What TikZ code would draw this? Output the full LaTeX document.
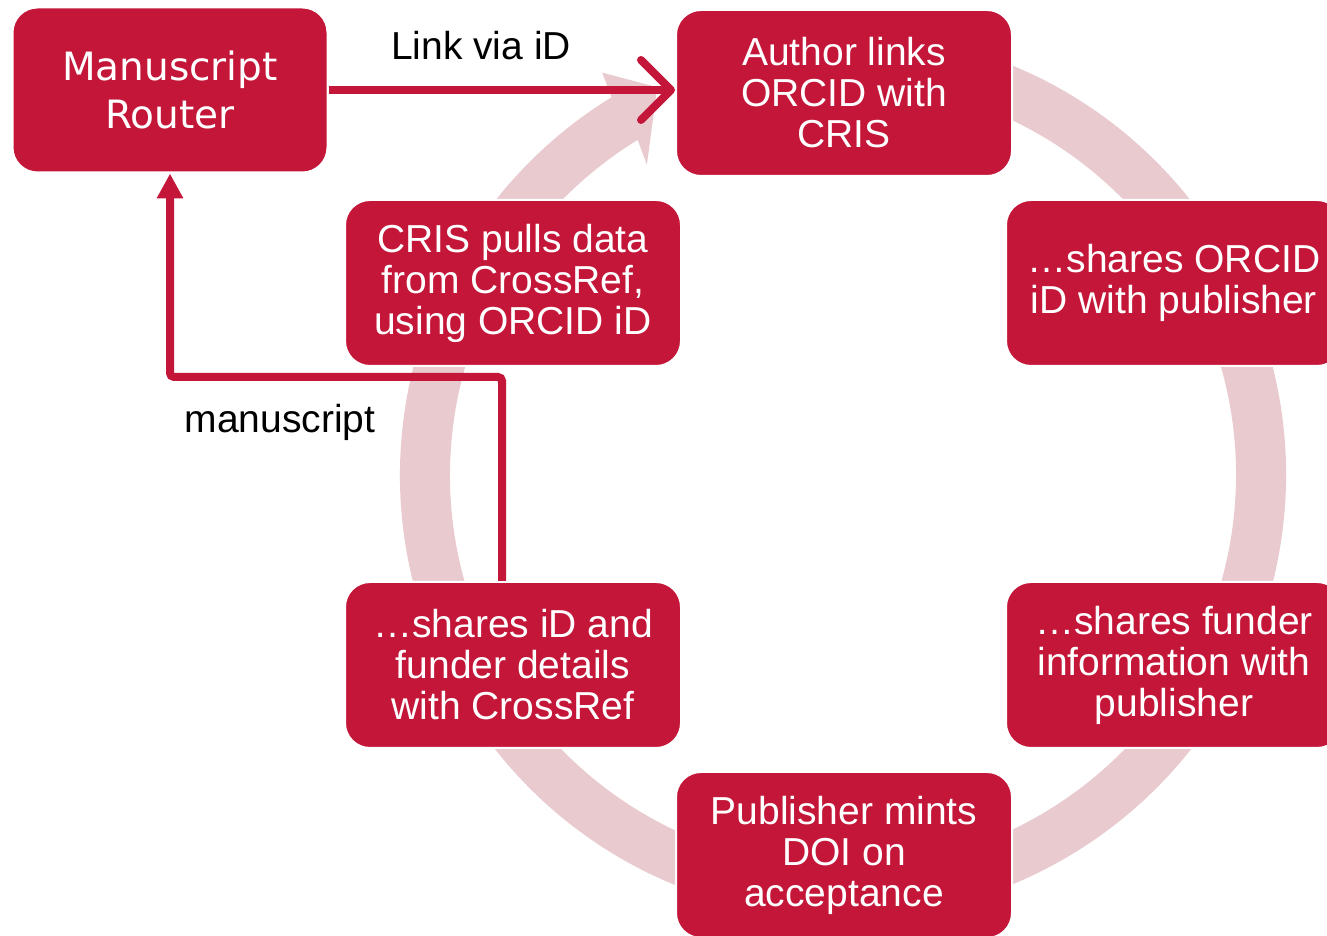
\documentclass[tikz,border=0pt]{standalone}
\usepackage{fontspec}
\setmainfont{Liberation Sans}
\newfontfamily\routerfont{DejaVu Sans}
\usetikzlibrary{arrows.meta}
\definecolor{boxred}{RGB}{196,22,56}
\definecolor{ringpink}{RGB}{233,203,207}

\begin{document}
\begin{tikzpicture}[x=0.5pt, y=0.5pt,
  stepbox/.style={rectangle, rounded corners=12.5pt, fill=boxred, draw=white, line width=1pt,
    text=white, align=center, minimum width=168pt, minimum height=83pt, inner sep=0pt,
    font=\fontsize{19.5}{20.5}\selectfont},
  flow/.style={draw=boxred, line width=4pt},
  label/.style={font=\fontsize{19.5}{20.5}\selectfont}]

% Frame
\useasboundingbox (0,0) rectangle (1327,936);
\clip (0,0) rectangle (1327,936);

% Cycle arrow behind the steps
\begin{scope}[shift={(843,461)}]
\fill[ringpink] (80:443) arc[start angle=80, end angle=-238.5, radius=443]
  -- (-239.1:469) -- (-244.4:430) -- (-237.7:367) -- (-238.5:393)
  arc[start angle=-238.5, end angle=80, radius=393] -- cycle;
\end{scope}

% Steps
\node[stepbox, font=\routerfont\fontsize{19.5}{24}\selectfont, minimum width=157.5pt, minimum height=82.5pt]
  (router) at (170,846) {Manuscript\\Router};
\node[stepbox] (author) at (844,843) {Author links\\ORCID with\\CRIS};
\node[stepbox] (shareorcid) at (1174,653) {…shares ORCID\\iD with publisher};
\node[stepbox] (funder) at (1174,271) {…shares funder\\information with\\publisher};
\node[stepbox] (publisher) at (844,81) {Publisher mints\\DOI on\\acceptance};
\node[stepbox] (shareid) at (513,271) {…shares iD and\\funder details\\with CrossRef};
\node[stepbox] (cris) at (513,653) {CRIS pulls data\\from CrossRef,\\using ORCID iD};

% Link via iD
\draw[flow, -{Straight Barb[length=15pt, width=30pt, line cap=round, line join=round]}]
  (router.east) -- (router.east -| author.west);
\node[label] (linklabel) at (481,890) {Link via iD};

% manuscript
\coordinate (bend) at (170,559);
\draw[flow, rounded corners=2pt, -{Triangle[length=12.5pt, width=12.5pt]}]
  ([xshift=-5.5pt]shareid.north) |- (bend) -- (router.south);
\node[label] (manuscriptlabel) at (280,514) {manuscript};

\end{tikzpicture}
\end{document}
